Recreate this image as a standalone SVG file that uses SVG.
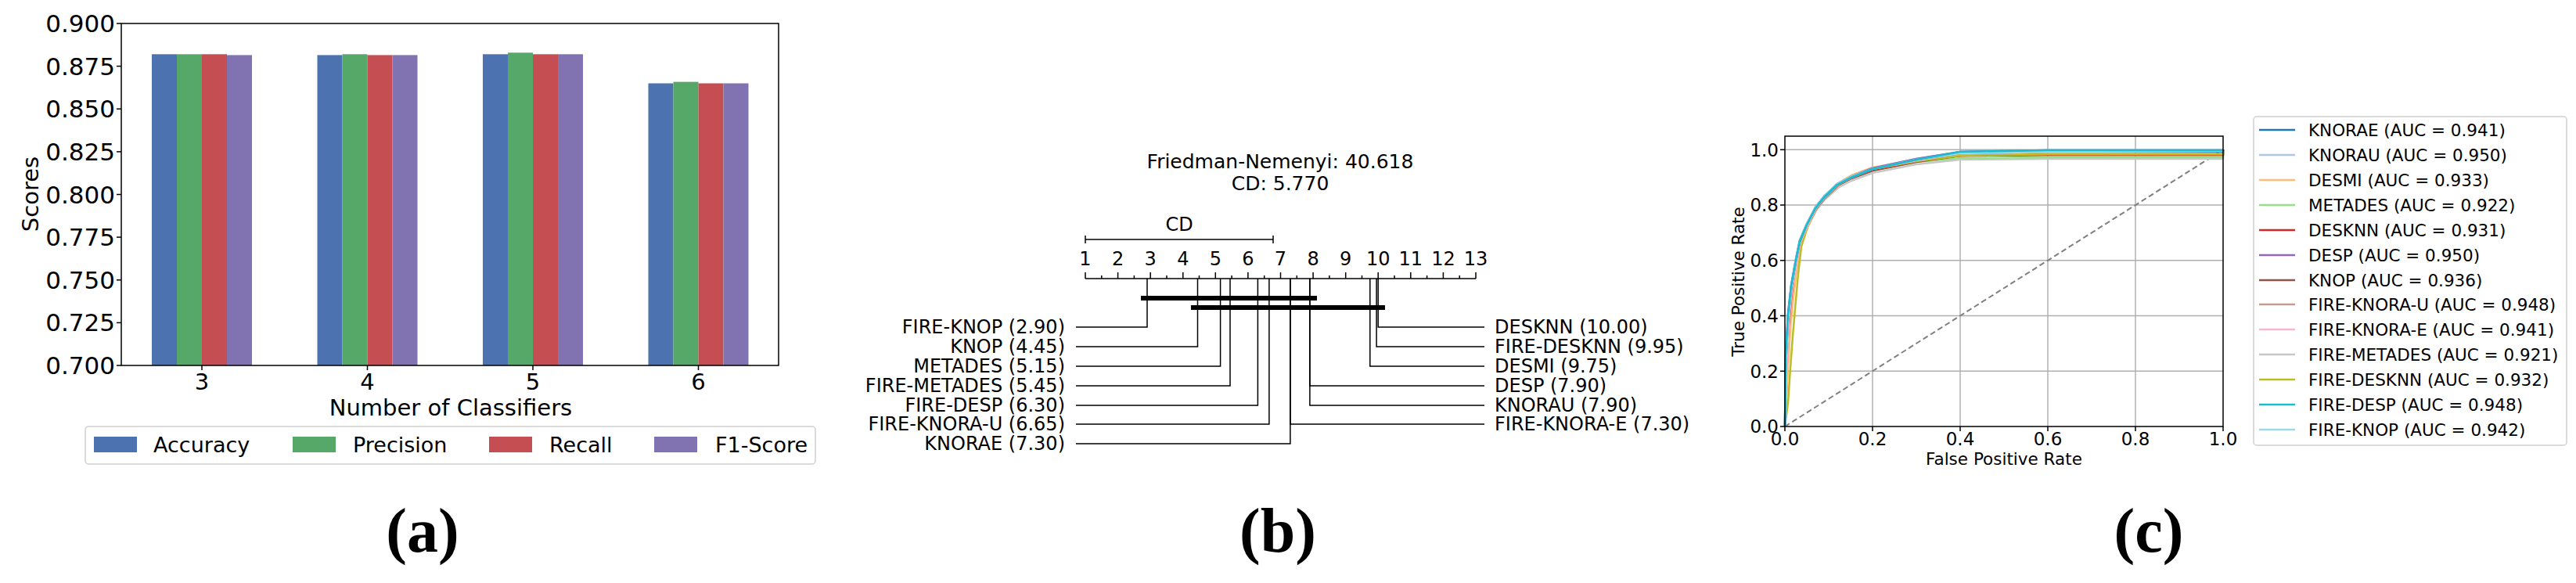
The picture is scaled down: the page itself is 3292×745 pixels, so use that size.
<svg xmlns="http://www.w3.org/2000/svg" width="3292" height="745" viewBox="0 0 3292 745">
<style>
text{font-family:"DejaVu Sans",sans-serif;fill:#000}
.t31{font-size:31px}.t29{font-size:29px}.t27{font-size:27px}
.t24{font-size:24px}.t25{font-size:25px}.t23{font-size:23px}.t21{font-size:21.5px}
.cap{font-family:"Liberation Serif",serif;font-weight:bold;font-size:80px}
.thin{stroke:#000;stroke-width:1.5;fill:none}
.grid{stroke:#b0b0b0;stroke-width:1.5}
.roc{fill:none;stroke-width:2.5;stroke-linejoin:round}
</style>
<rect width="3292" height="745" fill="#fff"/>

<!-- Panel (a) -->
<g id="panel-a">
  <g id="bars-a">
    <rect x="194" y="69.3" width="32" height="397.7" fill="#4c72b0"/>
    <rect x="226" y="69.3" width="32" height="397.7" fill="#55a868"/>
    <rect x="258" y="69.3" width="32" height="397.7" fill="#c44e52"/>
    <rect x="290" y="70.4" width="32" height="396.6" fill="#8172b2"/>
    <rect x="405.5" y="70.4" width="32" height="396.6" fill="#4c72b0"/>
    <rect x="437.5" y="69.3" width="32" height="397.7" fill="#55a868"/>
    <rect x="469.5" y="70.4" width="32" height="396.6" fill="#c44e52"/>
    <rect x="501.5" y="70.4" width="32" height="396.6" fill="#8172b2"/>
    <rect x="617" y="69.3" width="32" height="397.7" fill="#4c72b0"/>
    <rect x="649" y="67.3" width="32" height="399.7" fill="#55a868"/>
    <rect x="681" y="69.3" width="32" height="397.7" fill="#c44e52"/>
    <rect x="713" y="69.3" width="32" height="397.7" fill="#8172b2"/>
    <rect x="828.5" y="106.5" width="32" height="360.5" fill="#4c72b0"/>
    <rect x="860.5" y="104.6" width="32" height="362.4" fill="#55a868"/>
    <rect x="892.5" y="106.5" width="32" height="360.5" fill="#c44e52"/>
    <rect x="924.5" y="106.5" width="32" height="360.5" fill="#8172b2"/>
  </g>
  <rect x="155" y="30" width="840" height="437" fill="none" stroke="#000" stroke-width="1.5"/>
  <g stroke="#000" stroke-width="1.5">
    <line x1="149" y1="30" x2="155" y2="30"/><line x1="149" y1="84.6" x2="155" y2="84.6"/>
    <line x1="149" y1="139.2" x2="155" y2="139.2"/><line x1="149" y1="193.9" x2="155" y2="193.9"/>
    <line x1="149" y1="248.5" x2="155" y2="248.5"/><line x1="149" y1="303.1" x2="155" y2="303.1"/>
    <line x1="149" y1="357.8" x2="155" y2="357.8"/><line x1="149" y1="412.4" x2="155" y2="412.4"/>
    <line x1="149" y1="467" x2="155" y2="467"/>
    <line x1="258" y1="467" x2="258" y2="473"/><line x1="469.5" y1="467" x2="469.5" y2="473"/>
    <line x1="681" y1="467" x2="681" y2="473"/><line x1="892.5" y1="467" x2="892.5" y2="473"/>
  </g>
  <g class="t31" text-anchor="end">
    <text x="147" y="41">0.900</text><text x="147" y="95.6">0.875</text>
    <text x="147" y="150.2">0.850</text><text x="147" y="204.9">0.825</text>
    <text x="147" y="259.5">0.800</text><text x="147" y="314.1">0.775</text>
    <text x="147" y="368.8">0.750</text><text x="147" y="423.4">0.725</text>
    <text x="147" y="478">0.700</text>
  </g>
  <g class="t29" text-anchor="middle">
    <text x="258" y="498">3</text><text x="469.5" y="498">4</text>
    <text x="681" y="498">5</text><text x="892.5" y="498">6</text>
    <text x="576" y="531">Number of Classifiers</text>
    <text transform="translate(49,248) rotate(-90)">Scores</text>
  </g>
  <g id="legend-a">
    <rect x="109" y="545" width="933" height="48" rx="4" fill="#fff" stroke="#d0d0d0" stroke-width="1.5"/>
    <rect x="120" y="558" width="55" height="20" fill="#4c72b0"/>
    <rect x="374" y="558" width="55" height="20" fill="#55a868"/>
    <rect x="625" y="558" width="55" height="20" fill="#c44e52"/>
    <rect x="836" y="558" width="55" height="20" fill="#8172b2"/>
    <g class="t27">
      <text x="196" y="578">Accuracy</text><text x="451" y="578">Precision</text>
      <text x="702" y="578">Recall</text><text x="914" y="578">F1-Score</text>
    </g>
  </g>
  <text class="cap" x="540" y="705" text-anchor="middle">(a)</text>
</g>

<!-- Panel (b) -->
<g id="panel-b">
  <g class="t25" text-anchor="middle">
    <text x="1636" y="215">Friedman-Nemenyi: 40.618</text>
    <text x="1636" y="243">CD: 5.770</text>
  </g>
  <g id="cd-bar">
    <line class="thin" x1="1387" y1="306" x2="1627" y2="306"/>
    <line class="thin" x1="1387" y1="301" x2="1387" y2="311"/>
    <line class="thin" x1="1627" y1="301" x2="1627" y2="311"/>
    <text class="t24" x="1507" y="295" text-anchor="middle">CD</text>
  </g>
  <g id="rank-axis">
    <line class="thin" x1="1387" y1="356" x2="1886" y2="356"/>
    <path class="thin" d="M1387,356V348M1428.6,356V348M1470.2,356V348M1511.8,356V348M1553.3,356V348M1594.9,356V348M1636.5,356V348M1678.1,356V348M1719.7,356V348M1761.2,356V348M1802.8,356V348M1844.4,356V348M1886,356V348
    M1407.8,356V352M1449.4,356V352M1491,356V352M1532.5,356V352M1574.1,356V352M1615.7,356V352M1657.3,356V352M1698.9,356V352M1740.5,356V352M1782,356V352M1823.6,356V352M1865.2,356V352"/>
    <g class="t24" text-anchor="middle">
      <text x="1387" y="339">1</text><text x="1428.6" y="339">2</text><text x="1470.2" y="339">3</text>
      <text x="1511.8" y="339">4</text><text x="1553.3" y="339">5</text><text x="1594.9" y="339">6</text>
      <text x="1636.5" y="339">7</text><text x="1678.1" y="339">8</text><text x="1719.7" y="339">9</text>
      <text x="1761.2" y="339">10</text><text x="1802.8" y="339">11</text><text x="1844.4" y="339">12</text>
      <text x="1886" y="339">13</text>
    </g>
  </g>
  <g id="cliques">
    <line x1="1458" y1="381" x2="1683" y2="381" stroke="#000" stroke-width="6"/>
    <line x1="1522" y1="393" x2="1770" y2="393" stroke="#000" stroke-width="6"/>
  </g>
  <g id="rank-connectors" class="thin">
    <path d="M1466,356V418H1375"/>
    <path d="M1530.5,356V443H1375"/>
    <path d="M1559.6,356V468H1375"/>
    <path d="M1572,356V493H1375"/>
    <path d="M1607.4,356V518H1375"/>
    <path d="M1621.9,356V542H1375"/>
    <path d="M1648.9,356V567H1375"/>
    <path d="M1761.2,356V418H1897"/>
    <path d="M1759.1,356V443H1897"/>
    <path d="M1750.8,356V468H1897"/>
    <path d="M1673.9,356V493H1897"/>
    <path d="M1673.9,356V518H1897"/>
    <path d="M1648.9,356V542H1897"/>
  </g>
  <g class="t24" text-anchor="end">
    <text x="1361" y="426">FIRE-KNOP (2.90)</text>
    <text x="1361" y="451">KNOP (4.45)</text>
    <text x="1361" y="476">METADES (5.15)</text>
    <text x="1361" y="501">FIRE-METADES (5.45)</text>
    <text x="1361" y="526">FIRE-DESP (6.30)</text>
    <text x="1361" y="550">FIRE-KNORA-U (6.65)</text>
    <text x="1361" y="575">KNORAE (7.30)</text>
  </g>
  <g class="t24">
    <text x="1910" y="426">DESKNN (10.00)</text>
    <text x="1910" y="451">FIRE-DESKNN (9.95)</text>
    <text x="1910" y="476">DESMI (9.75)</text>
    <text x="1910" y="501">DESP (7.90)</text>
    <text x="1910" y="526">KNORAU (7.90)</text>
    <text x="1910" y="550">FIRE-KNORA-E (7.30)</text>
  </g>
  <text class="cap" x="1633" y="705" text-anchor="middle">(b)</text>
</g>

<!-- Panel (c) -->
<g id="panel-c">
  <g class="grid">
    <line x1="2393" y1="174" x2="2393" y2="545"/><line x1="2505" y1="174" x2="2505" y2="545"/>
    <line x1="2617" y1="174" x2="2617" y2="545"/><line x1="2729" y1="174" x2="2729" y2="545"/>
    <line x1="2281" y1="191.3" x2="2841" y2="191.3"/><line x1="2281" y1="262" x2="2841" y2="262"/>
    <line x1="2281" y1="332.8" x2="2841" y2="332.8"/><line x1="2281" y1="403.5" x2="2841" y2="403.5"/>
    <line x1="2281" y1="474.3" x2="2841" y2="474.3"/>
  </g>
  <line x1="2281" y1="545" x2="2841" y2="191.3" stroke="#808080" stroke-width="2" stroke-dasharray="7,4"/>
  <g id="roc-curves">
    <path class="roc" stroke="#c7c7c7" d="M2281,545L2283,470L2286,410L2290,372L2296,336L2301,312L2310,290L2321,269L2332,255L2349,240L2366,231L2393,221L2449,210L2505,204L2617,203L2841,203L2841,191"/>
    <path class="roc" stroke="#98df8a" d="M2281,545L2283,475L2286,412L2290,370L2296,335L2301,310L2310,289L2321,267L2332,253L2349,237L2366,228L2393,218L2449,207L2505,202L2617,201L2841,201L2841,191"/>
    <path class="roc" stroke="#8c564b" d="M2281,545L2283,490L2287,420L2291,375L2297,336L2302,311L2310,289L2321,267L2332,253L2349,237L2366,228L2393,218L2449,207L2505,199L2617,198L2841,198L2841,191"/>
    <path class="roc" stroke="#d62728" d="M2281,545L2284,480L2287,415L2291,372L2297,334L2302,310L2310,288L2321,266L2332,252L2349,236L2366,227L2393,217L2449,206L2505,199L2617,198L2841,198L2841,191"/>
    <path class="roc" stroke="#ffbb78" d="M2281,545L2284,485L2288,420L2292,378L2297,338L2302,311L2310,288L2321,265L2332,251L2349,234L2366,224L2393,214L2449,204L2505,198L2617,197L2841,197L2841,191"/>
    <path class="roc" stroke="#bcbd22" d="M2281,545L2285,515L2288,470L2291,430L2294,395L2298,350L2302,315L2310,290L2321,266L2332,252L2349,236L2366,226L2393,216L2449,206L2505,199L2617,197L2841,197L2841,191"/>
    <path class="roc" stroke="#f7b6d2" d="M2281,545L2283,470L2286,410L2290,370L2296,335L2301,309L2310,288L2321,266L2332,252L2349,236L2366,227L2393,216L2449,205L2505,196L2617,194L2841,194L2841,191"/>
    <path class="roc" stroke="#c49c94" d="M2281,545L2282,465L2285,405L2289,368L2295,333L2300,308L2309,287L2320,265L2331,251L2348,235L2365,226L2393,215L2449,203L2505,195L2617,193L2841,193L2841,191"/>
    <path class="roc" stroke="#1f77b4" d="M2281,545L2282,470L2285,408L2289,369L2295,334L2300,309L2309,287L2320,266L2331,252L2348,236L2365,227L2393,216L2449,204L2505,196L2617,194L2841,194L2841,191"/>
    <path class="roc" stroke="#aec7e8" d="M2281,545L2282,460L2285,402L2289,366L2295,332L2300,307L2309,286L2320,265L2331,251L2348,235L2365,226L2393,215L2449,203L2505,194L2617,192L2841,192"/>
    <path class="roc" stroke="#9467bd" d="M2281,545L2282,450L2285,400L2289,364L2295,331L2300,307L2309,286L2320,265L2331,251L2348,235L2365,226L2393,215L2449,203L2505,194L2617,192L2841,192"/>
    <path class="roc" stroke="#9edae5" stroke-width="4" d="M2281,545L2282,470L2285,410L2289,368L2295,332L2300,307L2309,286L2320,265L2331,251L2348,235L2365,226L2393,216L2449,204L2505,196L2617,194L2841,193"/>
    <path class="roc" stroke="#17becf" d="M2281,545L2282,455L2285,403L2289,366L2295,332L2300,308L2309,287L2320,266L2331,252L2348,236L2365,227L2393,216L2449,204L2505,194L2617,192L2841,192"/>
  </g>
  <rect x="2281" y="174" width="560" height="371" fill="none" stroke="#000" stroke-width="1.5"/>
  <g stroke="#000" stroke-width="1.5">
    <line x1="2275" y1="191.3" x2="2281" y2="191.3"/><line x1="2275" y1="262" x2="2281" y2="262"/>
    <line x1="2275" y1="332.8" x2="2281" y2="332.8"/><line x1="2275" y1="403.5" x2="2281" y2="403.5"/>
    <line x1="2275" y1="474.3" x2="2281" y2="474.3"/><line x1="2275" y1="545" x2="2281" y2="545"/>
    <line x1="2281" y1="545" x2="2281" y2="551"/><line x1="2393" y1="545" x2="2393" y2="551"/>
    <line x1="2505" y1="545" x2="2505" y2="551"/><line x1="2617" y1="545" x2="2617" y2="551"/>
    <line x1="2729" y1="545" x2="2729" y2="551"/><line x1="2841" y1="545" x2="2841" y2="551"/>
  </g>
  <g class="t23" text-anchor="end">
    <text x="2273" y="199.5">1.0</text><text x="2273" y="270.2">0.8</text>
    <text x="2273" y="341">0.6</text><text x="2273" y="411.7">0.4</text>
    <text x="2273" y="482.5">0.2</text><text x="2273" y="553.2">0.0</text>
  </g>
  <g class="t23" text-anchor="middle">
    <text x="2281" y="569">0.0</text><text x="2393" y="569">0.2</text><text x="2505" y="569">0.4</text>
    <text x="2617" y="569">0.6</text><text x="2729" y="569">0.8</text><text x="2841" y="569">1.0</text>
  </g>
  <text class="t21" x="2561" y="594" text-anchor="middle">False Positive Rate</text>
  <text class="t21" transform="translate(2229,360) rotate(-90)" text-anchor="middle">True Positive Rate</text>
  <g id="legend-c">
    <rect x="2880" y="149" width="400" height="420" rx="4" fill="#fff" stroke="#d0d0d0" stroke-width="1.5"/>
    <g stroke-width="2.5">
      <line x1="2887" y1="166" x2="2933" y2="166" stroke="#1f77b4"/>
      <line x1="2887" y1="198" x2="2933" y2="198" stroke="#aec7e8"/>
      <line x1="2887" y1="230" x2="2933" y2="230" stroke="#ffbb78"/>
      <line x1="2887" y1="262" x2="2933" y2="262" stroke="#98df8a"/>
      <line x1="2887" y1="294" x2="2933" y2="294" stroke="#d62728"/>
      <line x1="2887" y1="326" x2="2933" y2="326" stroke="#9467bd"/>
      <line x1="2887" y1="358" x2="2933" y2="358" stroke="#8c564b"/>
      <line x1="2887" y1="389" x2="2933" y2="389" stroke="#c49c94"/>
      <line x1="2887" y1="421" x2="2933" y2="421" stroke="#f7b6d2"/>
      <line x1="2887" y1="453" x2="2933" y2="453" stroke="#c7c7c7"/>
      <line x1="2887" y1="485" x2="2933" y2="485" stroke="#bcbd22"/>
      <line x1="2887" y1="517" x2="2933" y2="517" stroke="#17becf"/>
      <line x1="2887" y1="549" x2="2933" y2="549" stroke="#9edae5"/>
    </g>
    <g class="t21">
      <text x="2950" y="174">KNORAE (AUC = 0.941)</text>
      <text x="2950" y="206">KNORAU (AUC = 0.950)</text>
      <text x="2950" y="238">DESMI (AUC = 0.933)</text>
      <text x="2950" y="270">METADES (AUC = 0.922)</text>
      <text x="2950" y="302">DESKNN (AUC = 0.931)</text>
      <text x="2950" y="334">DESP (AUC = 0.950)</text>
      <text x="2950" y="366">KNOP (AUC = 0.936)</text>
      <text x="2950" y="397">FIRE-KNORA-U (AUC = 0.948)</text>
      <text x="2950" y="429">FIRE-KNORA-E (AUC = 0.941)</text>
      <text x="2950" y="461">FIRE-METADES (AUC = 0.921)</text>
      <text x="2950" y="493">FIRE-DESKNN (AUC = 0.932)</text>
      <text x="2950" y="525">FIRE-DESP (AUC = 0.948)</text>
      <text x="2950" y="557">FIRE-KNOP (AUC = 0.942)</text>
    </g>
  </g>
  <text class="cap" x="2746" y="705" text-anchor="middle">(c)</text>
</g>
</svg>
